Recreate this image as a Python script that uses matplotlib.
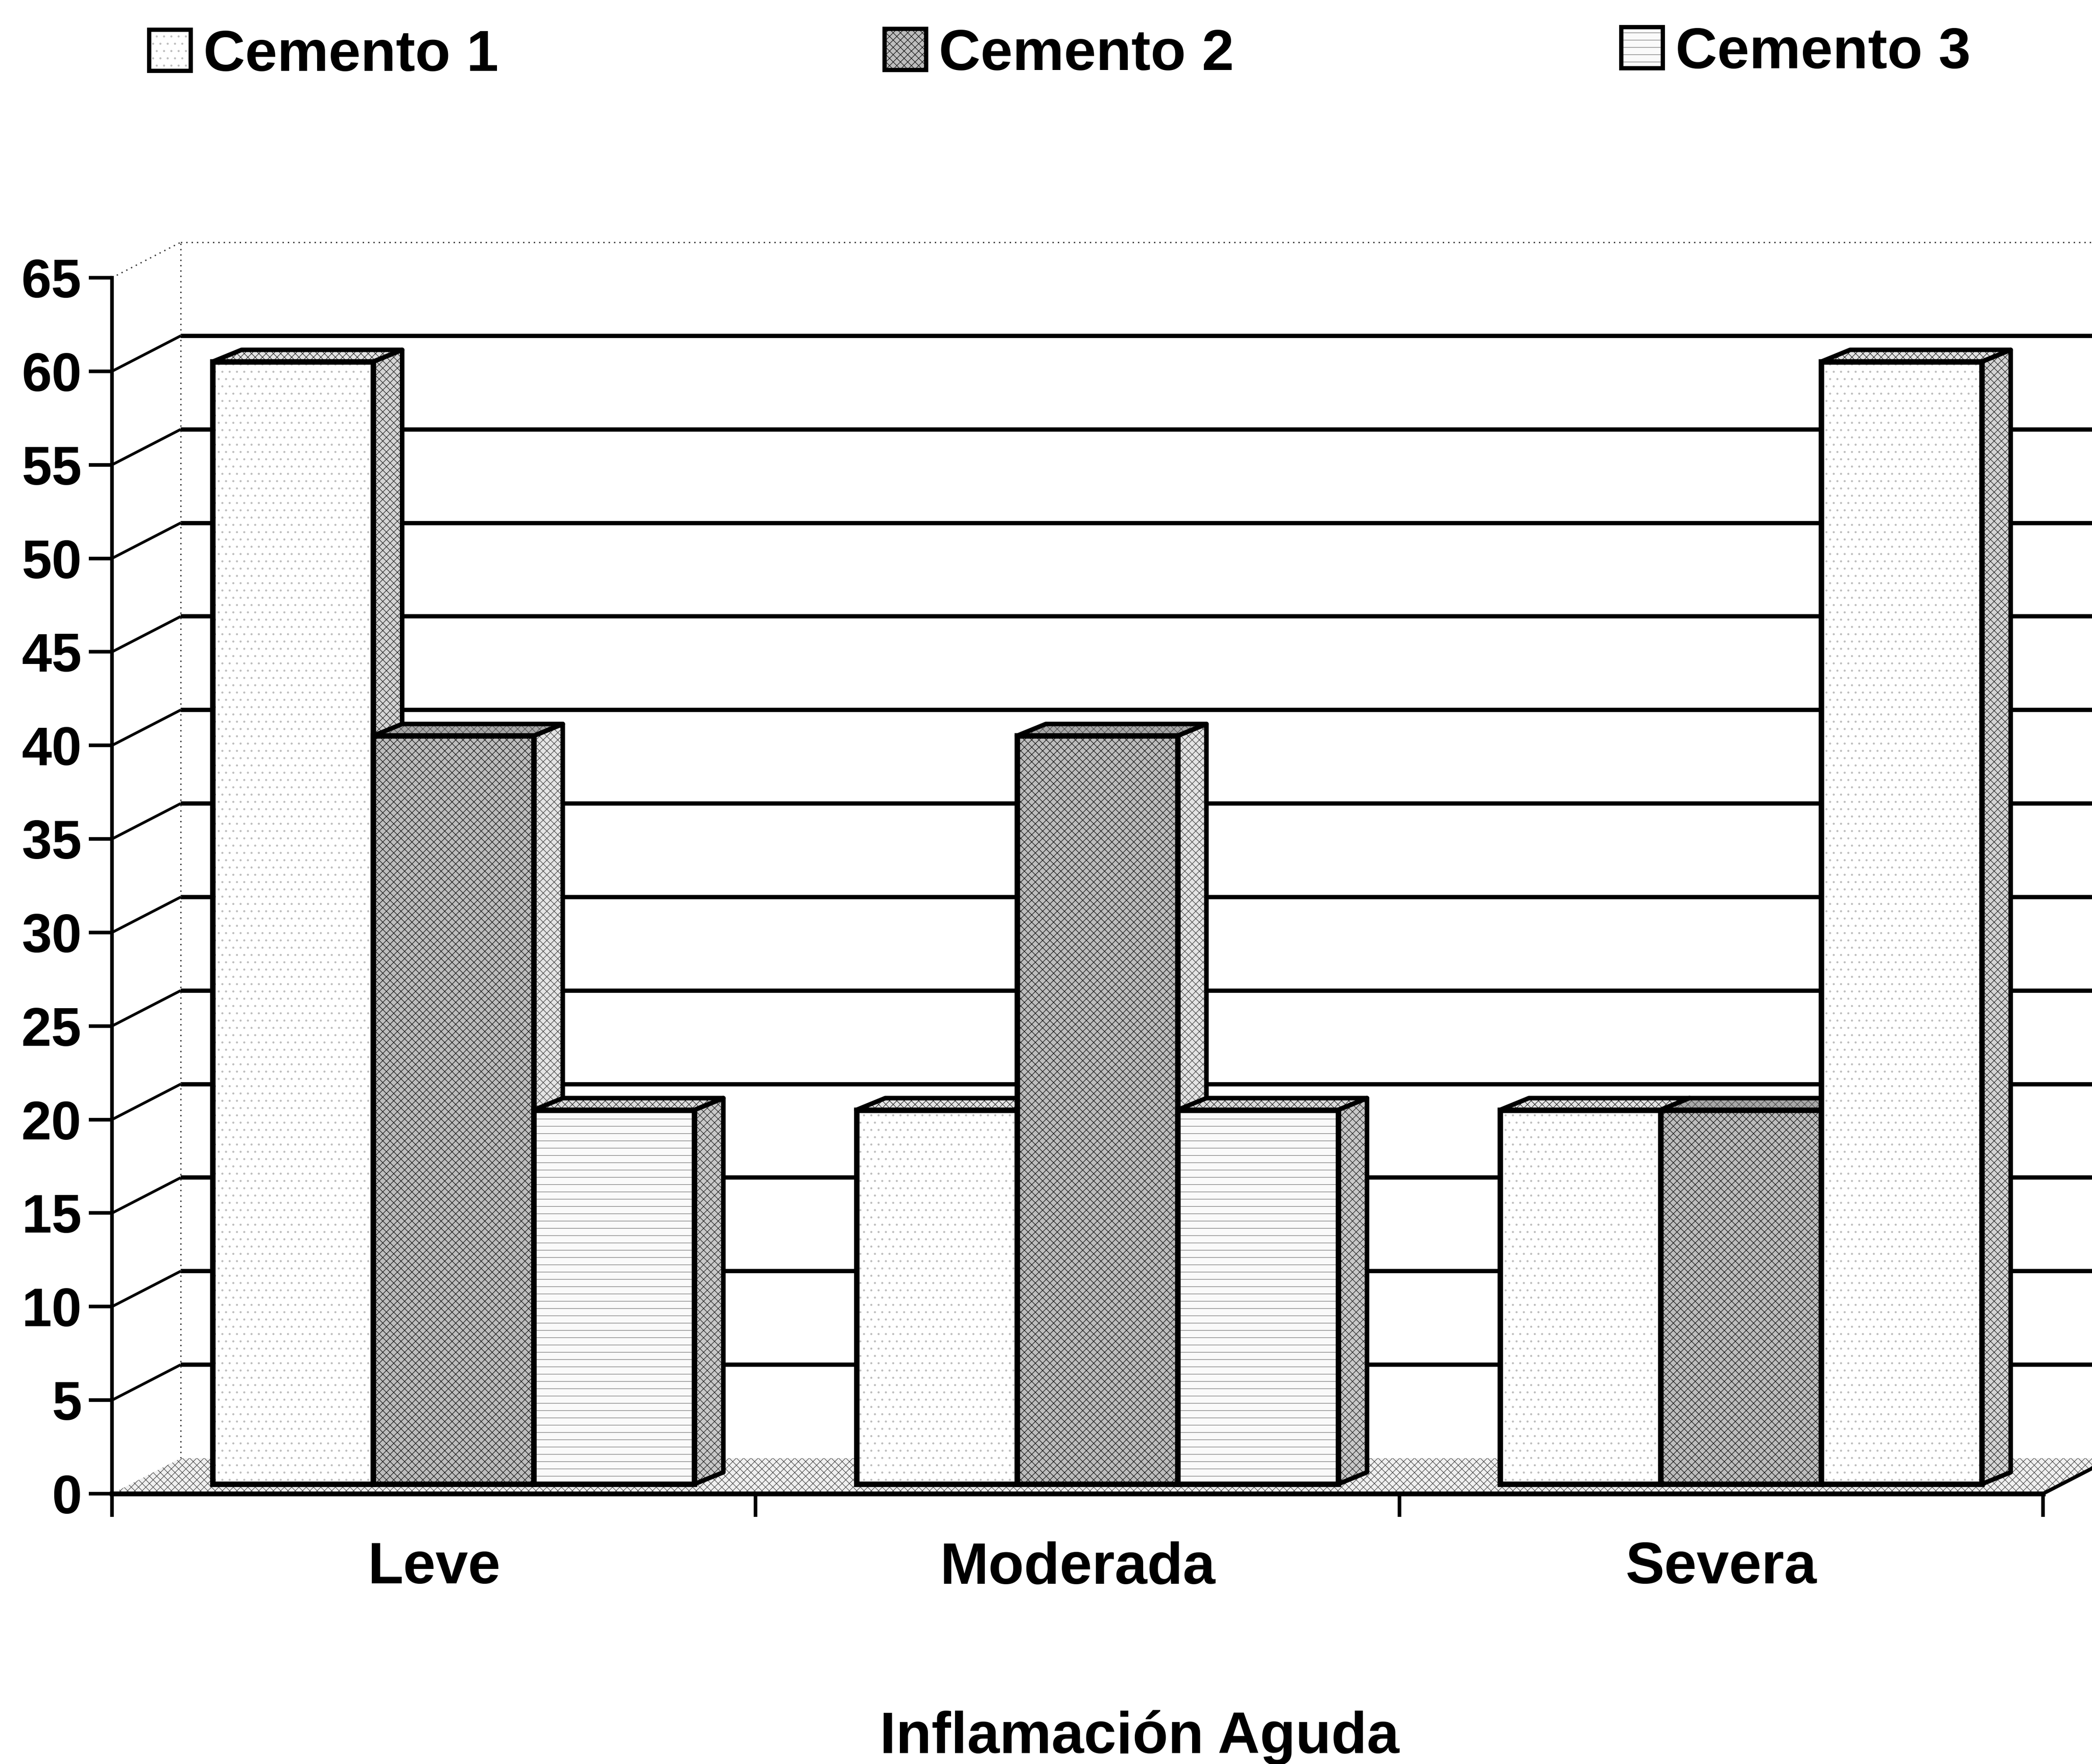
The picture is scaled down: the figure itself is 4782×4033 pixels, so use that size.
import matplotlib
matplotlib.use("Agg")
import matplotlib.pyplot as plt
from matplotlib.patches import Polygon, Rectangle
from matplotlib.transforms import Affine2D

# ---- data ----
categories = ["Leve", "Moderada", "Severa"]
series_names = ["Cemento 1", "Cemento 2", "Cemento 3"]
cemento_1 = [60, 20, 20]
cemento_2 = [40, 40, 20]
cemento_3 = [20, 20, 60]
y_ticks = list(range(0, 70, 5))
x_title = "Inflamación Aguda"

# ---- layout (pixels) ----
W, H = 4782, 4033
AX_L, AX_R, AX_T, AX_B = 256, 4670, 635, 3415
plt.rcParams["font.family"] = ["Liberation Sans", "DejaVu Sans"]
plt.rcParams["font.weight"] = "bold"

fig = plt.figure(figsize=(W / 100, H / 100), dpi=100, facecolor="white")
ax = fig.add_axes([AX_L / W, (H - AX_B) / H, (AX_R - AX_L) / W, (AX_B - AX_T) / H])
ax.set_xlim(0, 3)
ax.set_ylim(0, 65)
ax.patch.set_visible(False)

PXX = (AX_R - AX_L) / 3
PXY = (AX_B - AX_T) / 65
def off(dx_px, dy_px):
    return dx_px / PXX, dy_px / PXY

WALL = off(157, 81)
FRONT = off(47, 22)
BACK = off(113, 49)
BAR_W = 0.2495
MARGIN = 0.1245

styles = [
    dict(face="#ffffff", hcol="#bdbdbd", hatch=".", side="#d4d4d4", shcol="#303030", shatch="xx", top="#e4e4e4"),
    dict(face="#bdbdbd", hcol="#1e1e1e", hatch="xx", side="#e4e4e4", shcol="#505050", shatch="xx", top="#a8a8a8"),
    dict(face="#fafafa", hcol="#808080", hatch="-", side="#c8c8c8", shcol="#303030", shatch="xx", top="#dcdcdc"),
]
# the last bar of the reference is printed with the lighter dotted texture
bar_style = [[0, 1, 2], [0, 1, 2], [0, 1, 0]]

# ---- back wall ----
for v in y_ticks[1:-1]:
    ax.plot([0, WALL[0]], [v, v + WALL[1]], color="black", lw=4.5, clip_on=False, zorder=1, solid_capstyle="butt")
    ax.plot([WALL[0], 3.4], [v + WALL[1]] * 2, color="black", lw=7, clip_on=False, zorder=1, solid_capstyle="butt")
dot = (0, (1, 3))
ax.plot([0, WALL[0]], [65, 65 + WALL[1]], color="#333333", lw=2.2, ls=dot, clip_on=False, zorder=1)
ax.plot([WALL[0], 3.4], [65 + WALL[1]] * 2, color="#333333", lw=2.2, ls=dot, clip_on=False, zorder=1)
ax.plot([WALL[0], WALL[0]], [WALL[1], 65 + WALL[1]], color="#333333", lw=2.2, ls=dot, clip_on=False, zorder=1)

# ---- floor ----
floor = Polygon([(0, 0), (3, 0), (3 + WALL[0], WALL[1]), (WALL[0], WALL[1])], closed=True,
                facecolor="#f0f0f0", edgecolor="#555555", hatch="xx", lw=0, clip_on=False, zorder=2)
ax.add_patch(floor)
ax.plot([3, 3 + WALL[0]], [0, WALL[1]], color="black", lw=6, clip_on=False, zorder=3)

# ---- bars ----
z = 4
for g in range(len(categories)):
    for s, vals in enumerate([cemento_1, cemento_2, cemento_3]):
        st = styles[bar_style[g][s]]
        v = vals[g]
        x0 = g + MARGIN + s * BAR_W + FRONT[0]
        x1 = x0 + BAR_W
        y0 = FRONT[1]
        y1 = v + FRONT[1]
        ddx, ddy = BACK[0] - FRONT[0], BACK[1] - FRONT[1]
        top = [(x0, y1), (x1, y1), (x1 + ddx, y1 + ddy), (x0 + ddx, y1 + ddy)]
        side = [(x1, y0), (x1 + ddx, y0 + ddy), (x1 + ddx, y1 + ddy), (x1, y1)]
        for pts, fc, hc, ht in ((top, st["top"], st["shcol"], "xx"), (side, st["side"], st["shcol"], st["shatch"])):
            ax.add_patch(Polygon(pts, closed=True, facecolor=fc, edgecolor=hc, hatch=ht, lw=0, clip_on=False, zorder=z))
            ax.add_patch(Polygon(pts, closed=True, fill=False, edgecolor="black", lw=7.5, joinstyle="round", clip_on=False, zorder=z + 0.1))
        z += 1
        ax.bar(x0, v, width=BAR_W, bottom=y0, align="edge", color=st["face"], edgecolor=st["hcol"],
               hatch=st["hatch"], linewidth=0, clip_on=False, zorder=z)
        ax.bar(x0, v, width=BAR_W, bottom=y0, align="edge", fill=False, edgecolor="black",
               linewidth=9, clip_on=False, zorder=z + 0.1)
        z += 1

# ---- axes ----
for sp in ("top", "right"):
    ax.spines[sp].set_visible(False)
ax.spines["left"].set_linewidth(6)
ax.spines["bottom"].set_linewidth(8)
ax.spines["left"].set_zorder(200)
ax.spines["bottom"].set_zorder(200)
ax.set_yticks(y_ticks)
ax.tick_params(axis="y", length=38, width=6, pad=12, labelsize=89)
ax.set_xticks([0, 1, 2, 3])
ax.set_xticklabels([])
ax.tick_params(axis="x", which="major", length=38, width=6)
ax.set_xticks([0.5, 1.5, 2.5], minor=True)
ax.set_xticklabels(categories, minor=True, fontsize=96, fontweight="bold")
ax.tick_params(axis="x", which="minor", length=0, pad=78)
for t in ax.get_yticklabels():
    t.set_fontweight("bold")

# ---- pixel-space helpers for legend / title ----
px = Affine2D().scale(1 / W, -1 / H).translate(0, 1) + fig.transFigure
fig.text(2605, 4008, x_title, transform=px, ha="center", va="baseline", fontsize=96, fontweight="bold")

legend_x = [341, 2022, 3706]
legend_base = [162, 160, 156]
for name, st, lx, lb in zip(series_names, styles, legend_x, legend_base):
    fig.add_artist(Rectangle((lx, lb - 94), 95, 94, transform=px, facecolor=st["face"], edgecolor=st["hcol"],
                             hatch=st["hatch"], lw=0))
    fig.add_artist(Rectangle((lx, lb - 94), 95, 94, transform=px, fill=False, edgecolor="black", lw=7))
    fig.text(lx + 124, lb, name, transform=px, ha="left", va="baseline", fontsize=95, fontweight="bold")

fig.savefig("out.png", dpi=100, facecolor="white")
